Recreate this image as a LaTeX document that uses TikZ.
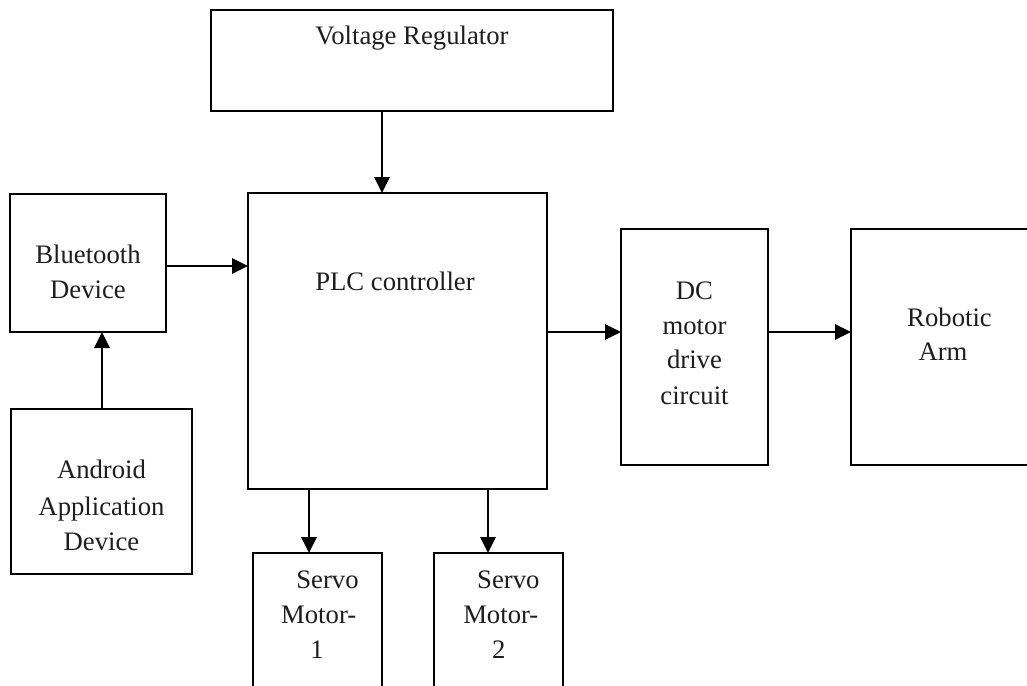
\documentclass[tikz,border=0pt]{standalone}
\usepackage{fontspec}
\setmainfont{Liberation Serif}
\usetikzlibrary{arrows.meta}
\definecolor{txtcol}{HTML}{1E1E1E}
\tikzset{
  blk/.style={draw=black, line width=1.8pt, rectangle, inner sep=0pt, outer sep=0pt, fill=none},
  lbl/.style={anchor=base, inner sep=0pt, text=txtcol, font=\fontsize{26.7pt}{35pt}\selectfont},
  arr/.style={line width=2.7pt, -{Triangle[length=16pt,width=15pt]}}
}
\newcommand{\blkbox}[5]{\node[blk, minimum width={#4-#2}, minimum height={#5-#3}] (#1) at ({(#2+#4)/2},{(#3+#5)/2}) {};}
\begin{document}
\begin{tikzpicture}[x=1pt,y=-1pt]
\useasboundingbox (0,0) rectangle (1027,685);
\clip (0,0) rectangle (1027,685);
\fill[white] (0,0) rectangle (1027,685);
% boxes
\blkbox{vr}{211}{10}{613}{111}
\blkbox{plc}{248}{193}{547}{489}
\blkbox{bt}{10}{194}{166}{332}
\blkbox{and}{11}{409}{192}{574}
\blkbox{dc}{621}{229}{768}{465}
\blkbox{arm}{851}{229}{1050}{465}
\blkbox{sa}{253}{553}{382}{705}
\blkbox{sb}{434}{553}{563}{705}
% labels
\node[lbl] (vrt) at (412,45) {Voltage Regulator};
\node[lbl] (plct) at (395,290) {PLC controller};
\node[lbl] (bta) at (88,263) {Bluetooth};
\node[lbl] (btb) at (88,298) {Device};
\node[lbl] (anda) at (101.5,478) {Android};
\node[lbl] (andb) at (101.5,515) {Application};
\node[lbl] (andc) at (101.5,550) {Device};
\node[lbl] (dca) at (694.5,299) {DC};
\node[lbl] (dcb) at (694.5,334) {motor};
\node[lbl] (dcc) at (694.5,368) {drive};
\node[lbl] (dcd) at (694.5,404) {circuit};
\node[lbl] (arma) at (949.5,326) {Robotic};
\node[lbl] (armb) at (943,360) {Arm};
\node[lbl] (saa) at (327.5,588) {Servo};
\node[lbl] (sab) at (318.7,623) {Motor-};
\node[lbl] (sac) at (317,658) {1};
\node[lbl] (sba) at (508.3,588) {Servo};
\node[lbl] (sbb) at (500.8,623) {Motor-};
\node[lbl] (sbc) at (498.8,658) {2};
% connectors
\draw[arr] (vr.south -| 382,0) -- (plc.north -| 382,0);
\draw[arr] (bt.east |- 0,266) -- (plc.west |- 0,266);
\draw[arr] (and.north -| 102,0) -- (bt.south -| 102,0);
\draw[arr] (plc.east |- 0,332) -- (dc.west |- 0,332);
\draw[arr] (dc.east |- 0,332) -- (arm.west |- 0,332);
\draw[arr] (plc.south -| 309,0) -- (sa.north -| 309,0);
\draw[arr] (plc.south -| 488,0) -- (sb.north -| 488,0);
\end{tikzpicture}
\end{document}
